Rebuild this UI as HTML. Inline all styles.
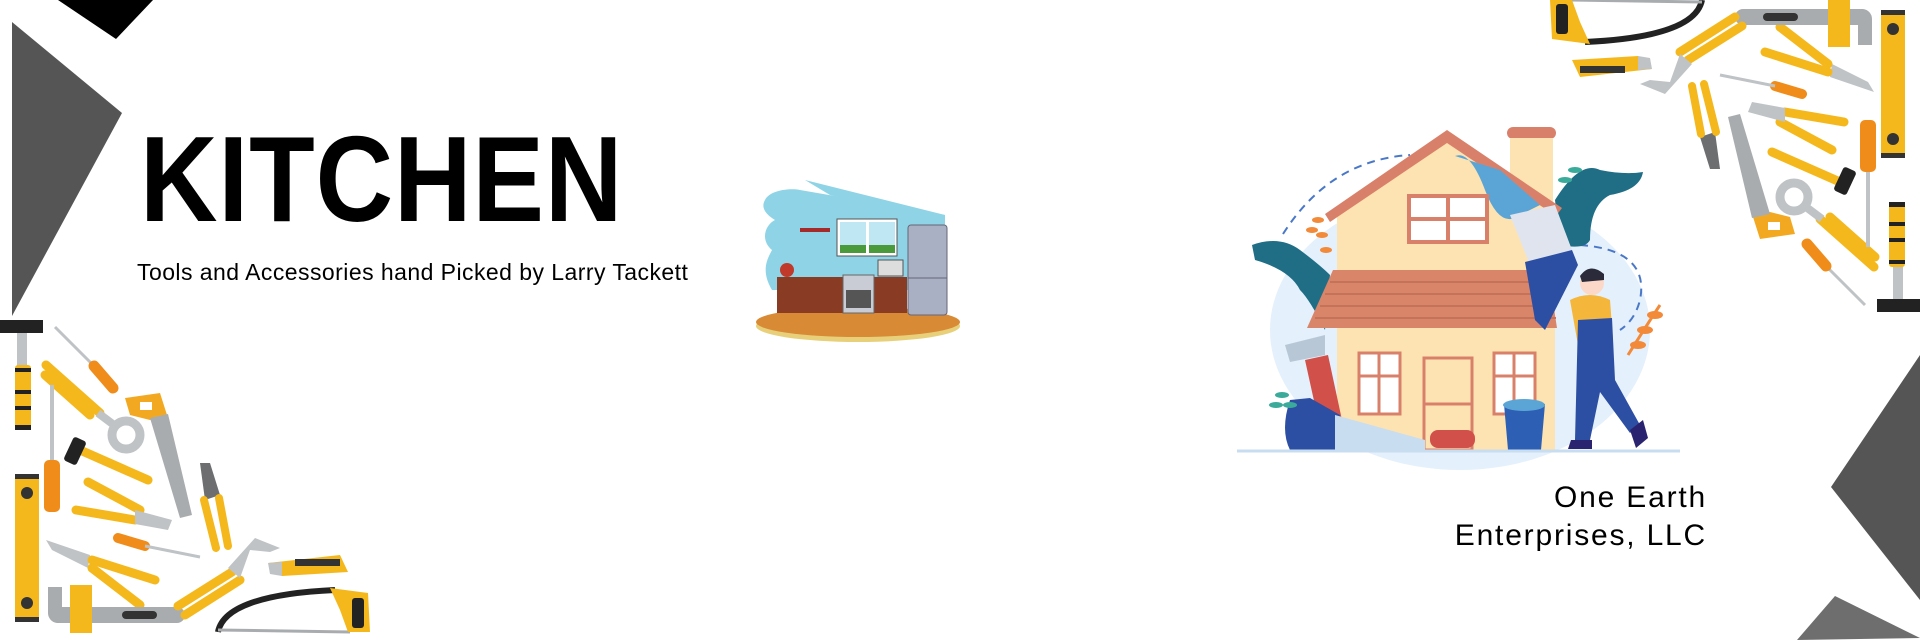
<!DOCTYPE html>
<html><head><meta charset="utf-8"><style>
html,body{margin:0;padding:0;background:#fff;}
body{width:1920px;height:640px;position:relative;overflow:hidden;font-family:"Liberation Sans",sans-serif;}
.t{position:absolute;white-space:nowrap;color:#000;}
</style></head><body>
<svg width="1920" height="640" style="position:absolute;left:0;top:0">
<defs>
<g id="tools">
 <rect x="0" y="10" width="43" height="13" fill="#222"/>
 <rect x="17" y="23" width="10" height="33" fill="#bfc3c6"/>
 <rect x="15" y="55" width="16" height="65" rx="3" fill="#f5b81c"/>
 <rect x="15" y="58" width="16" height="4" fill="#222"/><rect x="15" y="80" width="16" height="4" fill="#222"/><rect x="15" y="96" width="16" height="4" fill="#222"/><rect x="15" y="115" width="16" height="5" fill="#222"/>
 <line x1="55" y1="17" x2="95" y2="57" stroke="#bfc3c6" stroke-width="3"/>
 <line x1="94" y1="56" x2="113" y2="78" stroke="#f08c1a" stroke-width="11" stroke-linecap="round"/>
 <line x1="46" y1="55" x2="100" y2="103" stroke="#f5b81c" stroke-width="9" stroke-linecap="round"/>
 <line x1="45" y1="65" x2="90" y2="105" stroke="#f5b81c" stroke-width="9" stroke-linecap="round"/>
 <circle cx="126" cy="125" r="14" fill="none" stroke="#bfc3c6" stroke-width="9"/>
 <line x1="98" y1="103" x2="118" y2="118" stroke="#bfc3c6" stroke-width="8"/>
 <polygon points="125,88 160,83 167,105 150,110 130,105" fill="#f2a921"/>
 <rect x="140" y="92" width="12" height="8" fill="#fff"/>
 <polygon points="150,108 168,104 192,205 180,208" fill="#a9acae"/>
 <rect x="50" y="75" width="4" height="76" fill="#bfc3c6"/>
 <rect x="44" y="150" width="16" height="52" rx="5" fill="#f08c1a"/>
 <line x1="80" y1="140" x2="148" y2="170" stroke="#f5b81c" stroke-width="9" stroke-linecap="round"/>
 <rect x="68" y="128" width="14" height="26" rx="3" fill="#222" transform="rotate(25 75 141)"/>
 <rect x="15" y="164" width="24" height="148" rx="3" fill="#f5b81c"/>
 <rect x="15" y="164" width="24" height="5" fill="#333"/><rect x="15" y="307" width="24" height="5" fill="#333"/>
 <circle cx="27" cy="183" r="6" fill="#333"/><circle cx="27" cy="293" r="6" fill="#333"/>
 <line x1="88" y1="172" x2="140" y2="200" stroke="#f5b81c" stroke-width="9" stroke-linecap="round"/>
 <line x1="76" y1="200" x2="135" y2="210" stroke="#f5b81c" stroke-width="9" stroke-linecap="round"/>
 <polygon points="135,200 172,210 168,220 135,214" fill="#bfc3c6"/>
 <line x1="118" y1="228" x2="145" y2="236" stroke="#f08c1a" stroke-width="10" stroke-linecap="round"/>
 <line x1="145" y1="236" x2="200" y2="247" stroke="#bfc3c6" stroke-width="3"/>
 <polygon points="200,153 210,153 220,185 205,190" fill="#6d6e70"/>
 <line x1="204" y1="190" x2="216" y2="238" stroke="#f5b81c" stroke-width="8" stroke-linecap="round"/>
 <line x1="219" y1="188" x2="228" y2="236" stroke="#f5b81c" stroke-width="8" stroke-linecap="round"/>
 <polygon points="46,230 90,245 88,258 52,240" fill="#bfc3c6"/>
 <line x1="92" y1="250" x2="155" y2="270" stroke="#f5b81c" stroke-width="9" stroke-linecap="round"/>
 <line x1="92" y1="258" x2="140" y2="295" stroke="#f5b81c" stroke-width="9" stroke-linecap="round"/>
 <path d="M48,277 h14 v20 h115 a8,8 0 0 1 0,16 h-120 a10,10 0 0 1 -9,-10 z" fill="#a9acae"/>
 <rect x="70" y="275" width="22" height="48" fill="#f5b81c"/>
 <rect x="122" y="301" width="35" height="8" rx="4" fill="#333"/>
 <line x1="178" y1="296" x2="232" y2="262" stroke="#f5b81c" stroke-width="9" stroke-linecap="round"/>
 <line x1="185" y1="305" x2="240" y2="270" stroke="#f5b81c" stroke-width="9" stroke-linecap="round"/>
 <polygon points="228,258 255,228 280,238 270,242 250,240 240,268" fill="#bfc3c6"/>
 <polygon points="268,253 340,245 348,262 282,266" fill="#f5b81c"/>
 <rect x="295" y="249" width="45" height="7" fill="#333"/>
 <polygon points="268,253 282,252 282,266 270,264" fill="#bfc3c6"/>
 <path d="M218,322 Q225,285 335,280" fill="none" stroke="#222" stroke-width="6"/>
 <line x1="218" y1="320" x2="350" y2="322" stroke="#a9acae" stroke-width="3"/>
 <polygon points="330,278 368,283 370,322 348,322 340,300" fill="#f5b81c"/>
 <rect x="352" y="288" width="12" height="30" rx="3" fill="#222"/>
</g>
</defs>
<polygon points="58,0 153,0 116,39" fill="#000"/>
<polygon points="12,22 122,113 12,316" fill="#555"/>
<polygon points="1920,355 1831,487 1920,600" fill="#555"/>
<polygon points="1797,640 1835,596 1920,638" fill="#6e6e6e"/>
<use href="#tools" transform="translate(0,310)"/>
<use href="#tools" transform="translate(1920,322) rotate(180)"/>

<g>
 <path d="M765,200 C770,190 790,188 800,190 L945,215 L945,290 L772,290 C760,270 768,258 772,250 C760,240 765,225 775,220 C762,212 762,205 765,200 Z" fill="#8ed4e6"/>
 <polygon points="805,180 945,215 945,225 830,195" fill="#8ed4e6"/>
 <ellipse cx="858" cy="326" rx="102" ry="16" fill="#e8d07a"/>
 <ellipse cx="858" cy="322" rx="102" ry="15" fill="#d98a35"/>
 <rect x="837" y="219" width="60" height="37" fill="#fff" stroke="#555" stroke-width="1"/>
 <rect x="840" y="222" width="26" height="31" fill="#bfe7f3"/><rect x="869" y="222" width="26" height="31" fill="#bfe7f3"/>
 <rect x="840" y="245" width="26" height="8" fill="#4a9a3c"/><rect x="869" y="245" width="26" height="8" fill="#4a9a3c"/>
 <rect x="800" y="228" width="30" height="4" fill="#a52a2a"/>
 <rect x="878" y="260" width="25" height="16" fill="#ddd" stroke="#555"/>
 <circle cx="787" cy="270" r="7" fill="#c0392b"/>
 <rect x="777" y="277" width="130" height="36" fill="#8a3b24"/>
 <rect x="843" y="275" width="31" height="38" fill="#c9ccd4" stroke="#666"/>
 <rect x="846" y="290" width="25" height="18" fill="#555"/>
 <rect x="908" y="225" width="39" height="90" rx="3" fill="#a9b0c4" stroke="#667"/>
 <line x1="908" y1="278" x2="947" y2="278" stroke="#667"/>
</g>

<g>
 <ellipse cx="1460" cy="330" rx="190" ry="140" fill="#e4f0fb"/>
 <path d="M1283,234 Q1330,160 1410,155" fill="none" stroke="#4a78c8" stroke-width="2" stroke-dasharray="8,6"/>
 <path d="M1580,245 Q1650,250 1640,300 Q1635,320 1620,330" fill="none" stroke="#4a78c8" stroke-width="2" stroke-dasharray="8,6"/>
 <path d="M1252,245 Q1280,235 1300,250 Q1320,265 1330,275 L1325,330 Q1310,300 1300,290 Q1290,270 1255,260 Z" fill="#1f6e86"/>
 <path d="M1555,200 Q1580,160 1600,170 Q1625,175 1643,172 Q1640,190 1610,195 Q1590,205 1590,240 Q1585,250 1560,245 Z" fill="#1f6e86"/>
 <rect x="1507" y="127" width="49" height="12" rx="6" fill="#d9806a"/>
 <rect x="1510" y="138" width="43" height="140" fill="#fde3b2"/>
 <polygon points="1447,140 1555,210 1555,450 1337,450 1337,212" fill="#fde3b2"/>
 <polygon points="1447,130 1562,208 1556,216 1447,143 1330,222 1325,214" fill="#d9806a"/>
 <path d="M1455,156 Q1470,150 1485,190 Q1500,230 1520,215 L1540,205 L1500,170 Z" fill="#5ba5d6"/>
 <rect x="1409" y="196" width="78" height="46" fill="#fff" stroke="#d9806a" stroke-width="4"/>
 <line x1="1448" y1="196" x2="1448" y2="242" stroke="#d9806a" stroke-width="4"/>
 <line x1="1409" y1="219" x2="1487" y2="219" stroke="#d9806a" stroke-width="4"/>
 <polygon points="1333,270 1548,270 1557,328 1307,328" fill="#d9856a"/>
 <g stroke="#c4725a" stroke-width="2"><line x1="1330" y1="282" x2="1550" y2="282"/><line x1="1325" y1="294" x2="1552" y2="294"/><line x1="1320" y1="306" x2="1554" y2="306"/><line x1="1315" y1="318" x2="1556" y2="318"/></g>
 <rect x="1359" y="353" width="41" height="61" fill="#fff" stroke="#d9806a" stroke-width="3"/>
 <line x1="1379" y1="353" x2="1379" y2="414" stroke="#d9806a" stroke-width="3"/><line x1="1359" y1="376" x2="1400" y2="376" stroke="#d9806a" stroke-width="3"/>
 <rect x="1494" y="353" width="41" height="61" fill="#fff" stroke="#d9806a" stroke-width="3"/>
 <line x1="1514" y1="353" x2="1514" y2="414" stroke="#d9806a" stroke-width="3"/><line x1="1494" y1="376" x2="1535" y2="376" stroke="#d9806a" stroke-width="3"/>
 <rect x="1424" y="358" width="48" height="92" fill="#fde3b2" stroke="#d9806a" stroke-width="3"/>
 <line x1="1424" y1="404" x2="1472" y2="404" stroke="#d9806a" stroke-width="3"/>
 <polygon points="1510,215 1555,205 1572,250 1530,265" fill="#e0e4ee"/>
 <polygon points="1525,262 1572,250 1578,265 1545,330 1535,320" fill="#2d4fa3"/>
 <circle cx="1592" cy="283" r="12" fill="#fbd8c8"/>
 <path d="M1580,276 Q1590,262 1604,274 L1604,280 L1582,282 Z" fill="#2a2a3a"/>
 <path d="M1570,300 Q1590,290 1610,300 L1613,340 L1578,345 Z" fill="#f5b63c"/>
 <path d="M1578,320 L1612,318 L1615,380 L1640,425 L1630,433 L1600,392 L1590,440 L1575,440 Z" fill="#2d4fa3"/>
 <path d="M1571,440 L1592,440 L1592,449 L1568,449 Z" fill="#2a2470"/>
 <path d="M1630,430 L1643,420 L1648,438 L1636,448 Z" fill="#2a2470"/>
 <polygon points="1504,404 1545,404 1541,450 1508,450" fill="#2d5fb5"/>
 <ellipse cx="1524" cy="405" rx="21" ry="6" fill="#5ba5d6"/>
 <polygon points="1305,360 1328,355 1342,420 1320,428" fill="#d2504a"/>
 <polygon points="1285,345 1325,335 1325,355 1290,362" fill="#b8c7d6"/>
 <path d="M1290,400 L1310,398 L1340,415 L1335,450 L1290,450 Q1280,430 1290,400 Z" fill="#2d4fa3"/>
 <polygon points="1335,415 1425,440 1425,450 1335,450" fill="#c9ddf0"/>
 <rect x="1430" y="430" width="45" height="18" rx="8" fill="#d2504a"/>
 <path d="M1628,355 Q1650,320 1660,305" fill="none" stroke="#f28a3a" stroke-width="3"/>
 <g fill="#f28a3a"><ellipse cx="1645" cy="330" rx="8" ry="4"/><ellipse cx="1655" cy="315" rx="8" ry="4"/><ellipse cx="1638" cy="345" rx="8" ry="4"/></g>
 <g fill="#f28a3a"><ellipse cx="1318" cy="220" rx="6" ry="3"/><ellipse cx="1322" cy="235" rx="6" ry="3"/><ellipse cx="1326" cy="250" rx="6" ry="3"/><ellipse cx="1312" cy="230" rx="6" ry="3"/></g>
 <g fill="#3aaa9a"><ellipse cx="1282" cy="395" rx="7" ry="3"/><ellipse cx="1290" cy="405" rx="7" ry="3"/><ellipse cx="1276" cy="405" rx="7" ry="3"/><ellipse cx="1565" cy="180" rx="7" ry="3"/><ellipse cx="1575" cy="170" rx="7" ry="3"/></g>
 <line x1="1237" y1="451" x2="1680" y2="451" stroke="#c9ddf0" stroke-width="3"/>
</g>
</svg>

<div class="t" style="left:140px;top:118px;font-size:122px;font-weight:bold;letter-spacing:1px;transform:scaleX(0.88);transform-origin:left top;line-height:122px;">KITCHEN</div>
<div class="t" style="left:137px;top:259px;font-size:23px;letter-spacing:0.45px;line-height:26px;">Tools and Accessories hand Picked by Larry Tackett</div>
<div class="t" style="right:213px;top:479px;font-size:30px;letter-spacing:1.8px;line-height:38px;text-align:right;">One Earth<br>Enterprises, LLC</div>
</body></html>
